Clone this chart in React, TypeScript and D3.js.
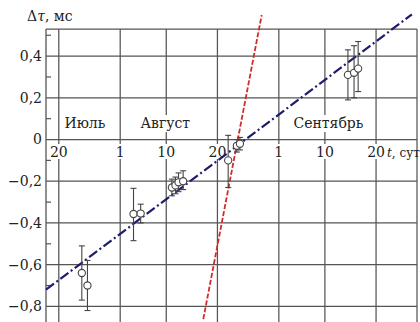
import React from "react";
import * as d3 from "d3";

// days counted from July 1 (July 1 = 0)
const xTickDays = [19, 31, 40, 50, 62, 71, 81];
const xTickLabels = ["20", "1", "10", "20", "1", "10", "20"];
const monthNames = ["Июль", "Август", "Сентябрь"];
const monthDays = [24.1, 39.8, 71.7];

const yMajor = [0.4, 0.2, 0, -0.2, -0.4, -0.6, -0.8];
const yMinor = [0.5, 0.3, 0.1, -0.1, -0.3, -0.5, -0.7];

const pointDays = [23.5, 24.6, 33.6, 35.0, 41.1, 41.8, 42.4, 43.3, 52.1, 53.8, 54.4, 75.5, 76.7, 77.5];
const pointValues = [-0.64, -0.70, -0.357, -0.355, -0.23, -0.22, -0.205, -0.2, -0.10, -0.03, -0.02, 0.31, 0.32, 0.34];
const errLow = [-0.77, -0.82, -0.485, -0.40, -0.27, -0.26, -0.25, -0.24, -0.23, -0.06, -0.05, 0.19, 0.20, 0.23];
const errHigh = [-0.51, -0.58, -0.234, -0.31, -0.19, -0.18, -0.16, -0.15, 0.02, 0.0, 0.01, 0.43, 0.45, 0.47];

const blueDays = [16.5, 88.0];
const blueValues = [-0.72, 0.6];
const redDays = [47.24, 58.65];
const redValues = [-0.861, 0.597];

const W = 420;
const H = 322;
const FONT = "'DejaVu Serif', 'Liberation Serif', serif";

export default function App() {
  const x = d3.scaleLinear().domain([16.5, 89]).range([46, 417]);
  const y = d3.scaleLinear().domain([-0.875, 0.53]).range([322, 29]);
  const line = d3
    .line<[number, number]>()
    .x((d) => x(d[0]))
    .y((d) => y(d[1]));
  const fmt = (v: number) => {
    if (v === 0) return "0";
    const s = Math.abs(v).toFixed(1).replace(".", ",");
    return v < 0 ? "\u2212" + s : s;
  };
  const gridColor = "#555";
  const textColor = "#222";
  const left = x.range()[0];
  const right = x.range()[1];
  const top = y.range()[1];
  const bottom = y.range()[0];
  const blue = blueDays.map((d, i) => [d, blueValues[i]] as [number, number]);
  const red = redDays.map((d, i) => [d, redValues[i]] as [number, number]);

  return (
    <svg
      width={W}
      height={H}
      style={{ position: "absolute", left: 0, top: 0, display: "block", background: "#fff" }}
      fontFamily={FONT}
    >
      {/* horizontal grid */}
      {yMajor.map((v) => (
        <line key={"h" + v} x1={left} x2={right} y1={y(v)} y2={y(v)} stroke={gridColor} strokeWidth={1.25} />
      ))}
      <line x1={left} x2={right} y1={top} y2={top} stroke={gridColor} strokeWidth={1.25} />
      {/* vertical grid */}
      {xTickDays.map((d, i) => (
        <line key={"v" + i} x1={x(d)} x2={x(d)} y1={top} y2={bottom} stroke={gridColor} strokeWidth={1.25} />
      ))}
      <line x1={left} x2={left} y1={top} y2={bottom} stroke={gridColor} strokeWidth={1.3} />
      <line x1={right} x2={right} y1={top} y2={bottom} stroke={gridColor} strokeWidth={1.25} />
      {/* minor ticks */}
      {yMinor.map((v) => (
        <line key={"m" + v} x1={left} x2={left + 5} y1={y(v)} y2={y(v)} stroke={gridColor} strokeWidth={1.2} />
      ))}
      {/* y labels */}
      {yMajor.map((v) => (
        <text key={"yl" + v} x={42} y={y(v)} dy="0.35em" textAnchor="end" fontSize={14} fill={textColor}>
          {fmt(v)}
        </text>
      ))}
      {/* x labels with white masks */}
      {xTickDays.map((d, i) => {
        const w = xTickLabels[i].length * 9 + 2;
        return (
          <g key={"xl" + i}>
            <rect x={x(d) - w / 2} y={144} width={w} height={15} fill="#fff" />
            <text x={x(d)} y={156.5} textAnchor="middle" fontSize={14} fill={textColor}>
              {xTickLabels[i]}
            </text>
          </g>
        );
      })}
      <text x={387} y={156.5} fontSize={12} fill={textColor}>
        <tspan fontStyle="italic">t</tspan>, сут
      </text>
      {/* month labels */}
      {monthNames.map((m, i) => {
        const w = m.length * 8.6;
        return (
          <g key={"mo" + i}>
            <rect x={x(monthDays[i]) - w / 2} y={115} width={w} height={17} fill="#fff" />
            <text x={x(monthDays[i])} y={128} textAnchor="middle" fontSize={14} fill={textColor}>
              {m}
            </text>
          </g>
        );
      })}
      {/* title */}
      <text x={27} y={21} fontSize={14} fill={textColor}>
        Δ<tspan fontStyle="italic">τ</tspan>, мс
      </text>
      {/* fit lines */}
      <path d={line(blue) || ""} fill="none" stroke="#1c1c6b" strokeWidth={2.2} strokeDasharray="10 3 2 3" />
      <path d={line(red) || ""} fill="none" stroke="#d42a2a" strokeWidth={1.8} strokeDasharray="5 2" />
      {/* error bars */}
      {pointDays.map((d, i) => (
        <g key={"e" + i} stroke="#444" strokeWidth={1.1}>
          <line x1={x(d)} x2={x(d)} y1={y(errLow[i])} y2={y(errHigh[i])} />
          <line x1={x(d) - 3} x2={x(d) + 3} y1={y(errLow[i])} y2={y(errLow[i])} />
          <line x1={x(d) - 3} x2={x(d) + 3} y1={y(errHigh[i])} y2={y(errHigh[i])} />
        </g>
      ))}
      {/* points */}
      {pointDays.map((d, i) => (
        <circle key={"p" + i} cx={x(d)} cy={y(pointValues[i])} r={3.6} fill="#fff" stroke="#444" strokeWidth={1.1} />
      ))}
    </svg>
  );
}
